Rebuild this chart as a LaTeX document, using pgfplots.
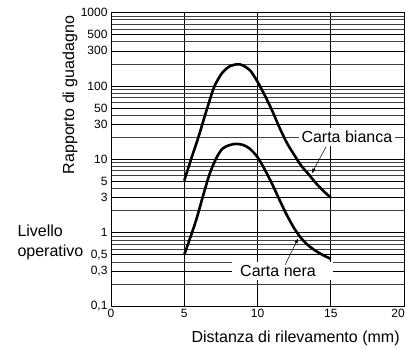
\documentclass[border=0pt]{standalone}
\usepackage{pgfplots}
\pgfplotsset{compat=1.18}
\usepackage{fontspec}
\setmainfont{Liberation Sans}
\usetikzlibrary{arrows.meta}
\newcommand{\lab}{\fontsize{16}{20}\selectfont}
\begin{document}
\begin{tikzpicture}
\begin{axis}[name=ax, scale only axis, width=293pt, height=293.5pt,
  ymode=log, xmin=0, xmax=20, ymin=0.1, ymax=1000,
  xtick={0,5,10,15,20},
  xticklabels={0,5,10,15,{20\hspace*{12pt}}},
  ytick={0.1,0.3,0.5,1,3,5,10,30,50,100,300,500,1000},
  yticklabels={{0,1},{0,3},{0,5},1,3,5,10,30,50,100,300,500,1000},
  minor ytick={0.2,0.4,0.6,0.7,0.8,0.9,2,4,6,7,8,9,20,40,60,70,80,90,200,400,600,700,800,900},
  grid=both,
  major grid style={black, line width=0.55pt},
  minor grid style={black!75, line width=0.45pt},
  major tick length=0pt, minor tick length=0pt,
  tick label style={font=\fontsize{12}{14}\selectfont},
  /pgf/number format/assume math mode=true,
  axis line style={line width=0.9pt},
  clip=false,
]
\addplot[black, line width=2.6pt, smooth] coordinates {
(5,5.1) (5.5,10.5) (6,21) (6.5,45) (7,92) (7.3,122) (7.62,153) (8.1,185) (8.64,197) (9.0,190) (9.5,162) (10.0,114) (10.5,74) (11.0,46) (11.5,27) (12.0,16.8) (12.5,11.5) (13.0,8.1) (13.5,6.2) (14.0,4.7) (14.5,3.7) (15,3.0)
};
\addplot[black, line width=2.6pt, smooth] coordinates {
(5,0.5) (5.36,0.8) (5.82,1.5) (6.27,3.1) (6.72,6.2) (7.18,10.3) (7.62,14) (8.1,15.6) (8.53,16.2) (9,15.7) (9.44,14.1) (10.0,10.7) (10.5,7.2) (11.0,4.6) (11.5,2.8) (12.0,1.74) (12.5,1.15) (13.0,0.83) (13.5,0.66) (14.0,0.56) (14.5,0.49) (15,0.44)
};
\node[fill=white, inner xsep=2.5pt, inner ysep=3pt, font=\lab] at (axis cs:16.1,20) {Carta bianca};
\node[fill=white, inner xsep=0pt, inner ysep=3pt, anchor=west, font=\lab] at (axis cs:8.26,0.3) {\hspace*{8pt}Carta nera\hspace*{17pt}};
\draw[-{Latex[length=5pt,width=3.5pt]}, line width=0.5pt] (axis cs:14.68,14.8) -- (axis cs:13.7,6.4);
\draw[-{Latex[length=5pt,width=3.5pt]}, line width=0.5pt] (axis cs:11.88,0.362) -- (axis cs:12.78,0.84);
\node[rotate=90, font=\lab] at ([xshift=-41pt]axis cs:0,75) {Rapporto di guadagno};
\node[anchor=west, align=left, font=\lab] at ([xshift=-97pt]axis cs:0,0.728) {Livello\\operativo};
\node[font=\lab] at ([yshift=-32pt]axis cs:12.6,0.1) {Distanza di rilevamento (mm)};
\end{axis}
\pgfresetboundingbox
\path ([xshift=-111pt,yshift=-43pt]ax.south west) rectangle ([xshift=2pt,yshift=12.5pt]ax.north east);
\end{tikzpicture}
\end{document}
